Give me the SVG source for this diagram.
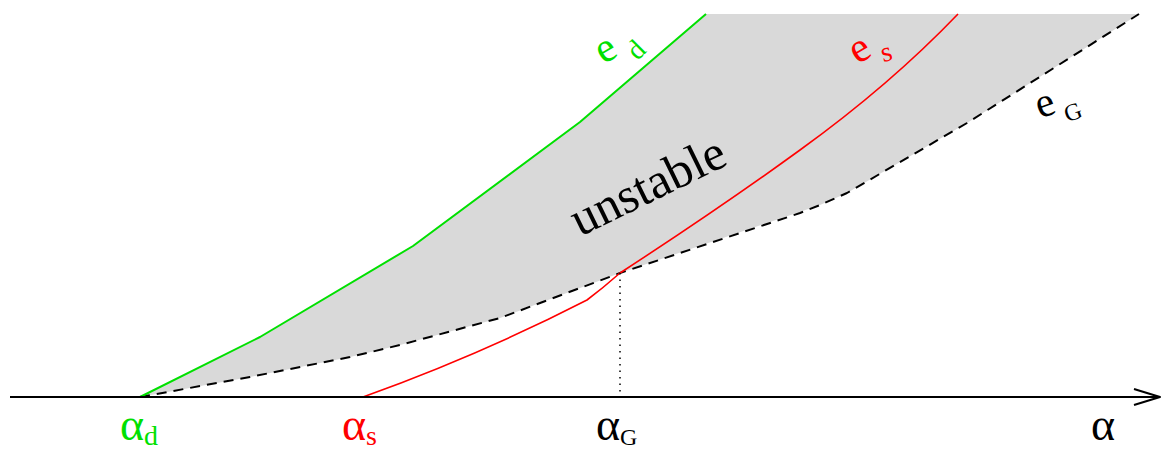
<svg xmlns="http://www.w3.org/2000/svg" width="1162" height="449" viewBox="0 0 1162 449">
<style>
.t{font-family:"Liberation Serif","Times New Roman",serif}
.m{text-anchor:middle}
.g{fill:#00e000}.r{fill:#ff0000}.k{fill:#000}
.curve{fill:none;stroke-linejoin:round}
</style>
<rect width="1162" height="449" fill="#fff"/>
<g id="region">
<polygon fill="#d9d9d9" points="140,397 260,337 413,246 580,122 706,14 1139,14 967,123 847,193 820,205 620,273 500,318 400,345 350,357 250,377 140,397"/>
</g>
<g id="connectors">
<polyline class="curve" stroke="#000" stroke-width="2" stroke-dasharray="10,7" points="140,397 250,377 350,357 400,345 500,318 620,273 800,213 820,205 847,193 967,123 1139,14"/>
<polyline class="curve" stroke="#00e000" stroke-width="2" points="140,397 260,337 413,246 580,122 706,14"/>
<path class="curve" stroke="#ff0000" stroke-width="1.6" d="M363,397 Q480,355 587,300 Q603,288 620,273 Q720,208 800,150 Q890,85 958,14"/>
<line x1="620" y1="273" x2="620" y2="397" stroke="#000" stroke-width="1.5" stroke-dasharray="1.5,5"/>
<line x1="10" y1="397" x2="1160" y2="397" stroke="#000" stroke-width="2"/>
<polyline class="curve" stroke="#000" stroke-width="2" points="1134,389 1160,397 1134,405"/>
</g>
<g id="label-ed">
<text class="t m g" font-size="42" transform="translate(607,52) rotate(-30)" y="9">e</text>
<text class="t m g" font-size="28" transform="translate(636,50) rotate(-45)" y="9">d</text>
</g>
<g id="label-es">
<text class="t m r" font-size="42" transform="translate(861,52) rotate(-30)" y="9">e</text>
<text class="t m r" font-size="28" transform="translate(887,55) rotate(-15)" y="6">s</text>
</g>
<g id="label-eG">
<text class="t m k" font-size="42" transform="translate(1046,107) rotate(-20)" y="9">e</text>
<text class="t m k" font-size="24" transform="translate(1073,112) rotate(-20)" y="8">G</text>
</g>
<g id="label-unstable"><text class="t k" font-size="50" transform="translate(580,237) rotate(-26)">unstable</text></g>
<g id="label-ad"><text class="t g" x="120" y="440" font-size="46">α<tspan font-size="28" dy="5">d</tspan></text></g>
<g id="label-as"><text class="t r" x="342" y="440" font-size="46">α<tspan font-size="28" dy="5">s</tspan></text></g>
<g id="label-aG"><text class="t k" x="596" y="440" font-size="46">α<tspan font-size="24" dy="5">G</tspan></text></g>
<g id="label-a"><text class="t k" x="1091" y="440" font-size="46">α</text></g>
</svg>
